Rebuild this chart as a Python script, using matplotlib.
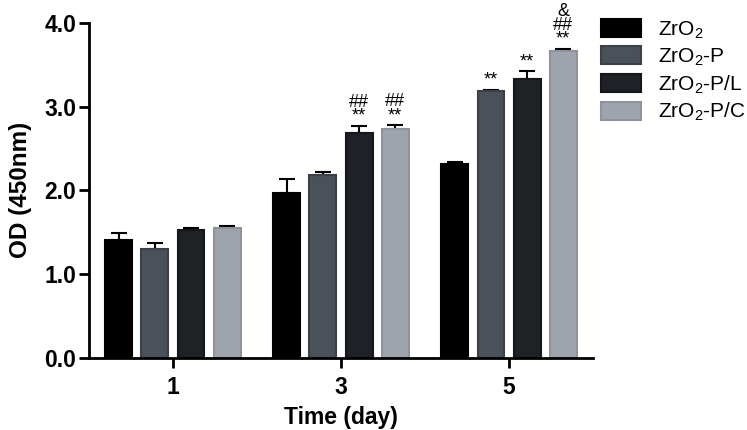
import numpy as np
import matplotlib.pyplot as plt

plt.rcParams["font.family"] = ["Liberation Sans", "DejaVu Sans"]
plt.rcParams["mathtext.fontset"] = "custom"
plt.rcParams["mathtext.rm"] = "Liberation Sans"

days = ["1", "3", "5"]
groups = ["ZrO$_2$", "ZrO$_2$-P", "ZrO$_2$-P/L", "ZrO$_2$-P/C"]
colors = ["#000000", "#4b515a", "#1e2126", "#9ea3ad"]
edges = ["#000000", "#3c4148", "#15171a", "#8d929c"]

od_zro2 = [1.41, 1.97, 2.31]
od_p = [1.30, 2.18, 3.18]
od_pl = [1.52, 2.68, 3.33]
od_pc = [1.55, 2.73, 3.66]
err_zro2 = [0.08, 0.17, 0.03]
err_p = [0.07, 0.04, 0.02]
err_pl = [0.03, 0.09, 0.09]
err_pc = [0.02, 0.05, 0.03]

marks_zro2 = ["", "", ""]
marks_p = ["", "", "**"]
marks_pl = ["", "##\n**", "**"]
marks_pc = ["", "##\n**", "&\n##\n**"]

values = [od_zro2, od_p, od_pl, od_pc]
errors = [err_zro2, err_p, err_pl, err_pc]
marks = [marks_zro2, marks_p, marks_pl, marks_pc]

fig = plt.figure(figsize=(7.47, 4.3), dpi=100)
ax = fig.add_axes([0.119, 0.168, 0.675, 0.779])

x = np.arange(len(days))
step = 0.215
width = 0.16
for i in range(len(groups)):
    pos = x + (i - 1.5) * step
    ax.bar(pos, values[i], width, color=colors[i], edgecolor=edges[i],
           linewidth=1.5, label=groups[i], zorder=2)
    ax.errorbar(pos, values[i], yerr=[np.zeros(3), errors[i]], fmt="none",
                ecolor="black", elinewidth=1.5, capsize=6, capthick=1.5, zorder=1)
    for j in range(len(days)):
        if marks[i][j]:
            ax.text(pos[j], values[i][j] + errors[i][j] + 0.01, marks[i][j],
                    ha="center", va="bottom", fontsize=13, linespacing=0.75)

ax.set_xlim(-0.5, 2.5)
ax.set_ylim(0, 4)
ax.set_xticks(x)
ax.set_xticklabels(days)
ax.set_yticks([0, 1, 2, 3, 4])
ax.set_yticklabels(["0.0", "1.0", "2.0", "3.0", "4.0"])
for lab in ax.get_xticklabels() + ax.get_yticklabels():
    lab.set_fontweight("bold")
    lab.set_fontsize(16.5)
ax.tick_params(width=2, length=7)
ax.tick_params(axis="x", pad=6)
ax.tick_params(axis="y", pad=2)
ax.spines["top"].set_visible(False)
ax.spines["right"].set_visible(False)
ax.spines["left"].set_linewidth(2)
ax.spines["bottom"].set_linewidth(2)
ax.set_xlabel("Time (day)", fontsize=16.5, fontweight="bold", labelpad=5)
ax.set_ylabel("OD (450nm)", fontsize=17.5, fontweight="bold", labelpad=9)

fig.legend(loc="upper left", bbox_to_anchor=(601 / 747, 1 - 19 / 430),
           frameon=False, fontsize=15, handlelength=1.9, handleheight=0.95,
           labelspacing=0.25, handletextpad=0.85, borderpad=0, borderaxespad=0)

fig.savefig("out.png", dpi=100)
